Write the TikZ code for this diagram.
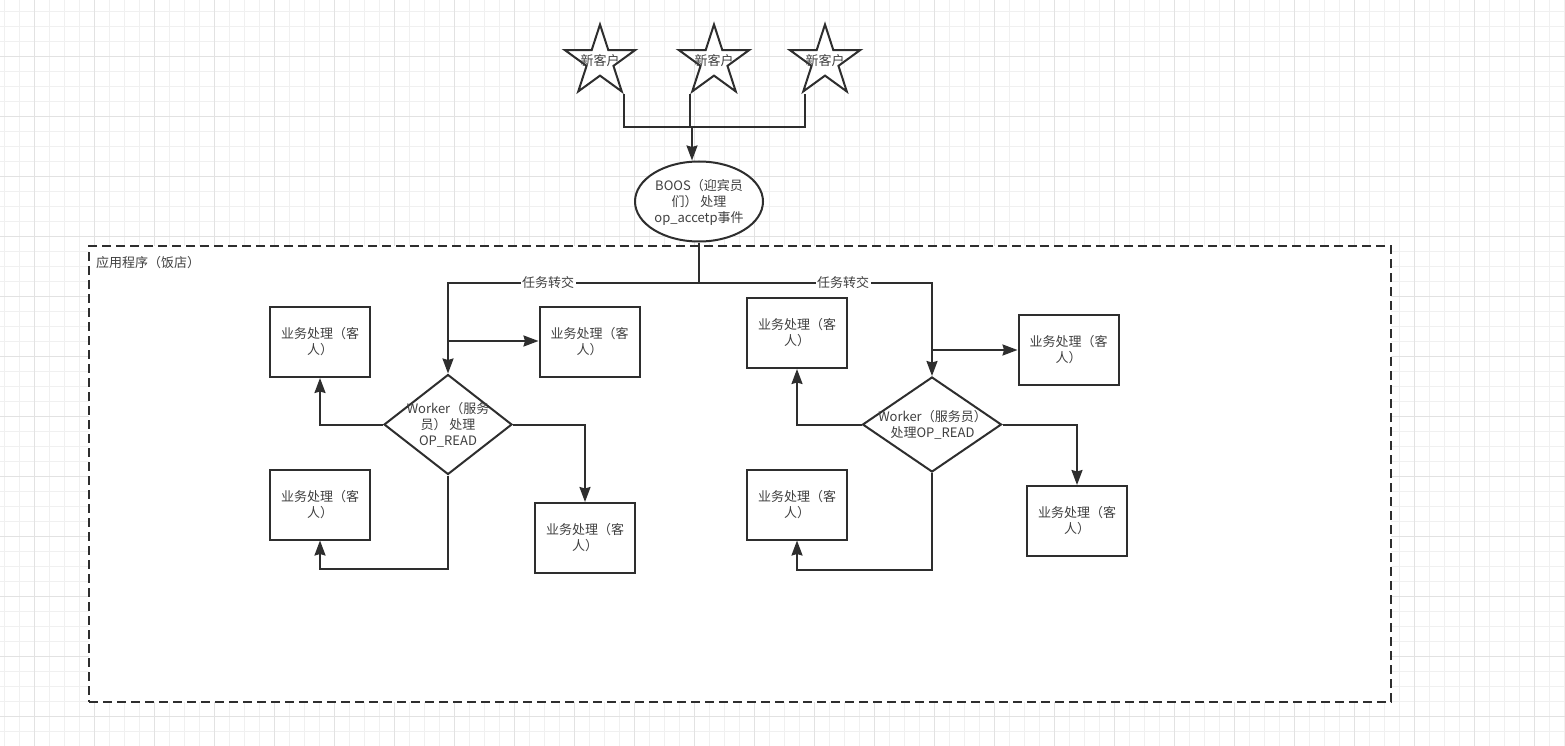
\documentclass[tikz,border=0pt]{standalone}
\usepackage{fontspec}
\setmainfont{Noto Sans CJK SC}
\usetikzlibrary{shapes.geometric,arrows.meta}
\definecolor{ln}{HTML}{2E2E2E}
\definecolor{tx}{HTML}{404040}
\definecolor{gmin}{HTML}{F0F0F0}
\definecolor{gmaj}{HTML}{E2E2E2}
\begin{document}
\begin{tikzpicture}[x=1pt,y=-1pt,
  every node/.style={font=\fontsize{13}{16}\selectfont, text=tx},
  line/.style={draw=ln, line width=2pt},
  arr/.style={line, -{Stealth[length=15pt,width=11pt,inset=1.5pt]}},
  box/.style={line, fill=white, rectangle, minimum width=100pt, minimum height=70pt, inner sep=0pt, align=center},
  starshape/.style={line, fill=white, star, star points=5, star point ratio=2.618, minimum size=74pt, inner sep=0pt},
  lab/.style={align=center, inner sep=0pt},
  tag/.style={fill=white, inner sep=1.5pt},
  container/.style={draw=ln, line width=2pt, dash pattern=on 9pt off 5pt, fill=white},
]
\useasboundingbox (0,0) rectangle (1565,746);
\fill[white] (0,0) rectangle (1565,746);
% grid
\foreach \i in {0,...,104} \draw[gmin, line width=1pt] ({4.3+15*\i},0) -- ({4.3+15*\i},746);
\foreach \j in {0,...,49} \draw[gmin, line width=1pt] (0,{11.7+15*\j}) -- (1565,{11.7+15*\j});
\foreach \i in {0,...,25} \draw[gmaj, line width=1pt] ({34.3+60*\i},0) -- ({34.3+60*\i},746);
\foreach \j in {0,...,12} \draw[gmaj, line width=1pt] (0,{56.7+60*\j}) -- (1565,{56.7+60*\j});

% container
\node[container, rectangle, minimum width=1302pt, minimum height=456pt, inner sep=0pt] (app) at (740,474) {};
\node[anchor=west, inner sep=0pt] (applab) at (96,263) {应用程序（饭店）};

% stars
\node[starshape] (s1) at (600,61.5) {};
\node[starshape] (s2) at (714,61.5) {};
\node[starshape] (s3) at (825,61.5) {};
\node[lab] (t1) at (600,60.5) {新客户};
\node[lab] (t2) at (714,60.5) {新客户};
\node[lab] (t3) at (825,60.5) {新客户};

% ellipse
\node[line, fill=white, ellipse, minimum width=128pt, minimum height=80pt, inner sep=0pt] (e) at (699,201.5) {};
\node[lab] (et) at (699,202) {BOOS（迎宾员\\们） 处理\\op\_accetp事件};

\coordinate (j) at (692,127);
\draw[line] (s1.outer point 4) |- (j);
\draw[line] (s2.outer point 3) |- (j);
\draw[line] ([xshift=4pt]s3.outer point 3) |- (j);
\draw[arr] (j) -- (j |- e.north);

% diamonds
\node[line, fill=white, diamond, minimum width=128pt, minimum height=100pt, inner sep=0pt] (d1) at (448,424.5) {};
\node[lab] (d1t) at (448,425) {Worker（服务\\员） 处理\\OP\_READ};
\node[line, fill=white, diamond, minimum width=139pt, minimum height=95pt, inner sep=0pt] (d2) at (932,424.5) {};
\node[lab] (d2t) at (932.5,425) {Worker（服务员）\\处理OP\_READ};

% boxes
\node[box] (L1) at (320,342) {业务处理（客\\人）};
\node[box] (L2) at (589.5,342) {业务处理（客\\人）};
\node[box] (L3) at (320,504.5) {业务处理（客\\人）};
\node[box] (L4) at (585,538) {业务处理（客\\人）};
\node[box] (R1) at (797,333) {业务处理（客\\人）};
\node[box] (R2) at (1068.5,350) {业务处理（客\\人）};
\node[box] (R3) at (797,504.5) {业务处理（客\\人）};
\node[box] (R4) at (1077,521) {业务处理（客\\人）};

% connectors from BOOS
\coordinate (b) at (699,283);
\draw[line] (e.south) -- (b);
\draw[arr] (b) -| (d1.north);
\draw[arr] (b) -| (d2.north);
\node[tag] (lt1) at (548,283) {任务转交};
\node[tag] (lt2) at (843,283) {任务转交};

% left worker
\coordinate (k1) at (448,341);
\draw[arr] (k1) -- (k1 -| L2.west);
\draw[arr] (d1.west) -| (L1.south);
\draw[arr] (d1.east) -| (L4.north);
\coordinate (m1) at (448,569);
\draw[arr] (d1.south) -- (m1) -| (L3.south);

% right worker
\coordinate (k2) at (932,350);
\draw[arr] (k2) -- (k2 -| R2.west);
\draw[arr] (d2.west) -| (R1.south);
\draw[arr] (d2.east) -| (R4.north);
\coordinate (m2) at (932,570);
\draw[arr] (d2.south) -- (m2) -| (R3.south);
\end{tikzpicture}
\end{document}
